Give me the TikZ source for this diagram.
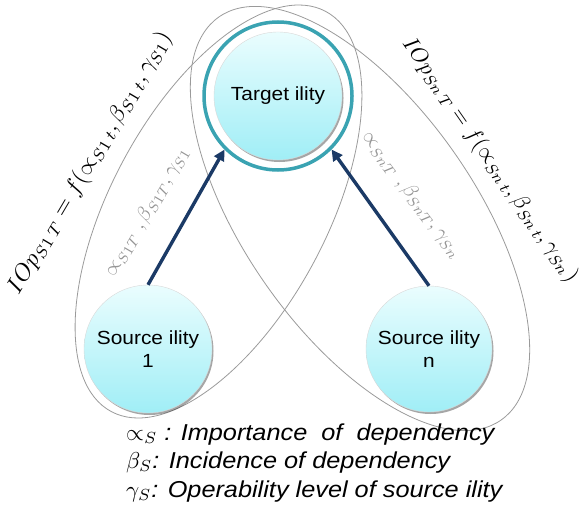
\documentclass[tikz,border=0pt]{standalone}
\usepackage{fontspec}
\newfontfamily\lab[FakeStretch=1.1]{Liberation Sans}
\usetikzlibrary{arrows.meta}
\definecolor{teal1}{HTML}{3AA3B2}
\definecolor{navy1}{HTML}{1B3A66}
\definecolor{ballTop}{HTML}{EAFDFE}
\definecolor{ballBot}{HTML}{A0EEF6}
\definecolor{loopgray}{HTML}{9A9A9A}
\definecolor{labgray}{HTML}{959595}
\begin{document}
\begin{tikzpicture}[x=1pt,y=-1pt,
  ball/.style={circle, inner sep=0pt, top color=ballTop, bottom color=ballBot,
    preaction={fill=black, opacity=0.35, transform canvas={xshift=1.5pt,yshift=-2pt}},
    draw=white!70!gray, line width=0.4pt, align=center,
    font=\lab\fontsize{19}{23}\selectfont},
  ring/.style={circle, draw=teal1, line width=3.5pt, fill=white, minimum size=148pt, inner sep=0pt},
  loopline/.style={draw=loopgray, line width=0.8pt},
  arr/.style={draw=navy1, line width=3.4pt, -{Triangle[length=11pt,width=11pt]}},
  pairlab/.style={text=labgray, scale=2.05},
  legend/.style={anchor=base west, scale=2.3, font=\lab\itshape}
]
\useasboundingbox (0,0) rectangle (585,513);
% loops
\draw[loopline, shift={(218.5,211.5)}, rotate=61.8] (0,0) ellipse [x radius=227pt, y radius=108pt];
\draw[loopline, shift={(360,218.5)}, rotate=-55] (0,0) ellipse [x radius=246pt, y radius=115pt];
% nodes
\node[ring] (T) at (278,96) {};
\node[ball, minimum size=128pt] (Tin) at (T) {Target ility};
\node[ball, minimum size=128pt] (S1) at (148,349) {Source ility\\1};
\node[ball, minimum size=126pt] (Sn) at (429,349) {Source ility\\n};
% arrows
\draw[arr] (S1.north) -- (T.225);
\draw[arr] (Sn.north) -- (T.-45);
% labels
\node[scale=2.35, rotate=59.4] (f1) at (90,163) {$IOp_{S1\,T} = f(\propto_{S1\,t},\beta_{S1\,t},\gamma_{S1})$};
\node[pairlab, rotate=59.4] (p1) at (147,212) {$\propto_{S1T}\ ,\beta_{S1T},\gamma_{S1}$};
\node[scale=2.22, rotate=-55.2] (fn) at (490,160) {$IOp_{Sn\,T} = f(\propto_{Sn\,t},\beta_{Sn\,t},\gamma_{Sn})$};
\node[pairlab, rotate=-53] (pn) at (412,195) {$\propto_{SnT}\ ,\beta_{SnT},\gamma_{Sn}$};
% legend
\node[legend] (l1) at (118,440) {$\propto_S$ : Importance\ \ of\ \ dependency};
\node[legend] (l2) at (118,468) {$\beta_S$: Incidence\ of dependency};
\node[legend] (l3) at (118,497) {$\gamma_S$: Operability\ level of source ility};
\end{tikzpicture}
\end{document}
